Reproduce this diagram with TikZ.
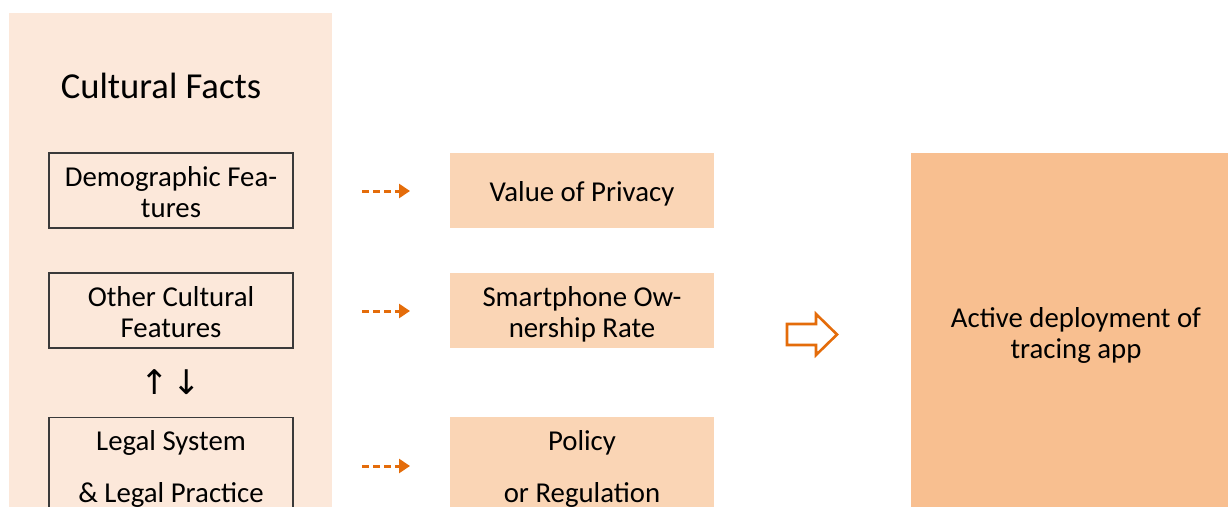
\documentclass[tikz,border=0pt]{standalone}
\usepackage{fontspec}
\setmainfont{Carlito}
\newfontfamily\symfont{DejaVu Sans}
\usetikzlibrary{arrows.meta}
\definecolor{panel}{HTML}{FCE8DA}
\definecolor{midfill}{HTML}{FAD5B5}
\definecolor{bigfill}{HTML}{F8BF90}
\definecolor{arrorange}{HTML}{E46C0A}
\definecolor{boxline}{HTML}{3A3A3A}
\tikzset{
  outlinebox/.style={draw=boxline, line width=1.3pt, inner sep=0pt, minimum width=244pt},
  midbox/.style={fill=midfill, draw=none, inner sep=0pt, minimum width=264pt},
  bodytxt/.style={inner sep=0pt, align=center, anchor=base, font=\fontsize{28.8}{31}\selectfont},
  widetxt/.style={bodytxt, font=\fontsize{28.8}{52}\selectfont},
  symtxt/.style={inner sep=0pt, anchor=base, font=\symfont\fontsize{34}{38}\selectfont},
  dasharrow/.style={draw=arrorange, line width=3pt, dash pattern=on 7pt off 4pt,
    -{Triangle[length=11pt,width=14pt]}, shorten >=0pt},
}
\begin{document}
\begin{tikzpicture}[x=1pt,y=-1pt]
\useasboundingbox (0,0) rectangle (1228,506);
\clip (0,0) rectangle (1228,506);
% left panel
\node[fill=panel, inner sep=0pt, minimum width=323pt, minimum height=520pt, anchor=north west] (panel) at (9,13) {};
\node[inner sep=0pt, anchor=base, font=\fontsize{36.6}{40}\selectfont] (title) at (161,98) {Cultural Facts};
% left outlined boxes
\node[outlinebox, minimum height=75pt] (demo) at (171,190.5) {};
\node[outlinebox, minimum height=75pt] (other) at (171,310.5) {};
\node[outlinebox, minimum height=120pt, anchor=north] (legal) at (171,417) {};
\node[bodytxt] (demotxt) at (171,217) {Demographic Fea-\\tures};
\node[bodytxt] (othertxt) at (171,337) {Other Cultural\\Features};
\node[widetxt] (legaltxt) at (171,502) {Legal System\\\& Legal Practice};
\node[symtxt] (uparrow) at (154.5,394) {↑};
\node[symtxt] (downarrow) at (187,394) {↓};
% middle boxes
\node[midbox, minimum height=75pt] (privacy) at (582,190.5) {};
\node[midbox, minimum height=75pt] (phone) at (582,310.5) {};
\node[midbox, minimum height=120pt, anchor=north] (policy) at (582,417) {};
\node[bodytxt] (privacytxt) at (582,201) {Value of Privacy};
\node[bodytxt] (phonetxt) at (582,337) {Smartphone Ow-\\nership Rate};
\node[widetxt] (policytxt) at (582,502) {Policy\\or Regulation};
% dashed arrows
\coordinate (a1s) at (362,191); \coordinate (a1e) at (410,191);
\coordinate (a2s) at (362,311); \coordinate (a2e) at (410,311);
\coordinate (a3s) at (362,466); \coordinate (a3e) at (410,466);
\draw[dasharrow] (a1s) -- (a1e);
\draw[dasharrow] (a2s) -- (a2e);
\draw[dasharrow] (a3s) -- (a3e);
% block arrow
\draw[draw=arrorange, fill=white, line width=2.6pt, line join=miter]
  (787,324) -- (816,324) -- (816,314) -- (837,334.5) -- (816,355) -- (816,345) -- (787,345) -- cycle;
% right box
\node[fill=bigfill, inner sep=0pt, minimum width=330pt, minimum height=370pt, anchor=north west] (active) at (911,153) {};
\node[bodytxt] (activetxt) at (1076,358) {Active deployment of\\tracing app};
\end{tikzpicture}
\end{document}
